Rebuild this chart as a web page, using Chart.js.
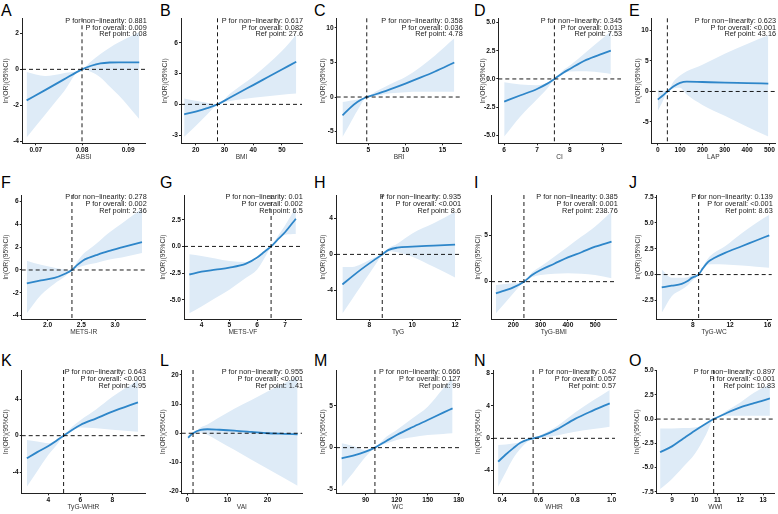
<!DOCTYPE html>
<html>
<head>
<meta charset="utf-8">
<title>RCS curves</title>
<script src="https://cdn.jsdelivr.net/npm/chart.js@4.4.0/dist/chart.umd.min.js"></script>
<style>
  html, body { margin: 0; padding: 0; background: #fff; overflow: hidden; }
  #fig { position: relative; width: 778px; height: 514px; }
  #fig canvas { position: absolute; }
  .tag { position: absolute; font: 16px "Liberation Sans", Arial, sans-serif; line-height: 16px; color: #000; }
</style>
</head>
<body>
<div id="fig"></div>
<script>
// Panel labels and axis titles
const panelTags = ['A', 'B', 'C', 'D', 'E', 'F', 'G', 'H', 'I', 'J', 'K', 'L', 'M', 'N', 'O'];
const xTitles = ['ABSI', 'BMI', 'BRI', 'CI', 'LAP', 'METS-IR', 'METS-VF', 'TyG', 'TyG-BMI', 'TyG-WC',
                 'TyG-WHtR', 'VAI', 'WC', 'WHtR', 'WWI'];
const yTitle = 'ln(OR)(95%CI)';

// Stats shown top-right of each panel
const pNonLinear = ['0.881', '0.617', '0.358', '0.345', '0.623', '0.278', '0.01', '0.935', '0.385', '0.139',
                    '0.643', '0.955', '0.666', '0.42', '0.897'];
const pOverall = ['0.009', '0.082', '0.036', '0.013', '<0.001', '0.002', '0.002', '<0.001', '0.001', '<0.001',
                  '<0.001', '<0.001', '0.127', '0.057', '<0.001'];
const refPoints = [0.08, 27.6, 4.78, 7.53, 43.16, 2.36, 6.5, 8.6, 238.76, 8.63, 4.95, 1.41, 99, 0.57, 10.83];

// Curve x positions, fitted ln(OR) and 95% CI bounds
const xPoints = [
  [0.068, 0.072, 0.076, 0.080, 0.082, 0.084, 0.086, 0.088, 0.0924],
  [16, 20, 24, 27.6, 32, 36, 40, 45, 50, 55],
  [1.5, 2.5, 3.5, 4.78, 6, 8, 10, 12, 14, 16.6],
  [6.0, 6.5, 7.0, 7.3, 7.53, 7.8, 8.0, 8.5, 9.0, 9.25],
  [0, 20, 43.16, 70, 100, 130, 200, 300, 400, 495],
  [1.69, 1.9, 2.1, 2.25, 2.36, 2.44, 2.52, 2.6, 2.72, 2.9, 3.1, 3.4],
  [3.56, 4.0, 4.5, 5.0, 5.6, 6.0, 6.26, 6.5, 6.75, 7.0, 7.39],
  [6.74, 7.2, 7.6, 8.0, 8.3, 8.6, 8.9, 9.3, 10, 11, 12],
  [136, 170, 200, 239, 270, 300, 350, 400, 450, 500, 560],
  [4.68, 5.75, 6.82, 7.5, 7.9, 8.3, 8.63, 9.1, 9.68, 10.3, 11.46, 13.25, 14.8, 16.2],
  [2.65, 3.3, 4.0, 4.5, 4.95, 5.5, 6.0, 7.0, 8.0, 9.6],
  [0.17, 1.41, 3.3, 5, 8, 11.7, 16, 20, 24, 27.5],
  [66.8, 78, 90, 99, 110, 120, 135, 150, 165, 174],
  [0.378, 0.42, 0.46, 0.5, 0.54, 0.57, 0.62, 0.7, 0.8, 0.9, 0.99],
  [8.48, 9.0, 9.5, 10.0, 10.5, 10.83, 11.4, 12.0, 12.6, 13.3]
];
const fitValues = [
  [-1.72, -1.15, -0.57, 0, 0.2, 0.33, 0.38, 0.39, 0.39],
  [-0.97, -0.7, -0.37, 0, 0.67, 1.28, 1.88, 2.64, 3.4, 4.16],
  [-2.67, -1.6, -0.72, 0, 0.4, 1.15, 1.95, 2.8, 3.7, 5.0],
  [-2.01, -1.45, -0.89, -0.44, 0, 0.55, 0.89, 1.69, 2.24, 2.51],
  [-1.32, -0.75, 0, 0.8, 1.4, 1.62, 1.55, 1.45, 1.38, 1.3],
  [-1.17, -0.92, -0.7, -0.35, 0, 0.45, 0.82, 1.05, 1.3, 1.65, 1.98, 2.45],
  [-2.63, -2.37, -2.18, -1.99, -1.61, -1.04, -0.5, 0, 0.68, 1.33, 2.6],
  [-3.35, -2.45, -1.7, -1.0, -0.5, 0, 0.5, 0.75, 0.86, 0.98, 1.1],
  [-1.27, -0.95, -0.62, 0, 0.75, 1.27, 1.95, 2.64, 3.2, 3.8, 4.35],
  [-1.23, -1.08, -0.9, -0.6, -0.32, -0.17, 0, 0.62, 1.25, 1.6, 2.1, 2.74, 3.3, 3.8],
  [-2.48, -1.8, -1.13, -0.55, 0, 0.65, 1.17, 1.9, 2.63, 3.65],
  [-1.49, 0, 1.14, 1.37, 1.2, 0.91, 0.45, 0, -0.2, -0.34],
  [-1.28, -0.95, -0.48, 0, 0.8, 1.52, 2.45, 3.32, 4.2, 4.72],
  [-2.89, -2.0, -1.24, -0.55, -0.15, 0, 0.3, 1.1, 2.4, 3.45, 4.33],
  [-3.42, -2.81, -2.0, -1.2, -0.45, 0, 0.62, 1.2, 1.64, 2.12]
];
const lowerCI = [
  [-3.78, -2.52, -1.26, 0, -0.15, -0.45, -0.95, -1.45, -2.75],
  [-3.15, -2.1, -1.0, 0, 0.32, 0.5, 0.65, 0.8, 0.95, 1.05],
  [-5.8, -3.9, -2.0, 0, 0.2, 0.55, 0.7, 0.75, 0.75, 0.75],
  [-5.1, -3.3, -1.8, -0.9, 0, 0.45, 0.65, 0.68, 0.55, 0.44],
  [-3.2, -1.8, 0, 0.5, 0.6, -0.5, -2.2, -4.0, -5.8, -7.4],
  [-3.8, -2.2, -1.2, -0.6, 0, 0.2, 0.35, 0.48, 0.62, 0.9, 1.1, 1.5],
  [-6.27, -5.63, -4.84, -4.05, -2.94, -2.15, -1.1, 0, 0.75, 1.1, 1.17],
  [-6.6, -4.97, -3.55, -2.13, -1.07, 0, 0.35, 0.25, -0.26, -1.38, -2.57],
  [-3.44, -2.3, -1.27, 0, 0.5, 0.72, 0.85, 0.9, 0.85, 0.72, 0.36],
  [-3.7, -2.1, -1.45, -1.0, -0.65, -0.3, 0, 0.5, 0.97, 1.0, 0.97, 0.87, 0.75, 0.65],
  [-5.6, -3.9, -2.1, -1.05, 0, 0.6, 0.9, 0.82, 0.65, 0.44],
  [-2.3, 0, 0.3, -0.5, -2.83, -5.7, -9.06, -12.2, -15.3, -18.0],
  [-4.68, -3.0, -1.1, 0, 0.5, 0.92, 1.25, 1.52, 1.65, 1.72],
  [-5.98, -4.2, -2.5, -1.3, -0.4, 0, 0.1, 0.35, 0.8, 1.15, 1.44],
  [-7.2, -6.16, -4.9, -3.6, -1.6, 0, 0.34, 0.34, 0.34, 0.34]
];
const upperCI = [
  [-0.15, -0.37, -0.22, 0, 0.45, 0.85, 1.2, 1.5, 2.05],
  [0.58, 0.35, 0.15, 0, 1.05, 1.9, 2.7, 3.9, 5.2, 6.8],
  [-0.73, -0.55, -0.35, 0, 0.8, 1.9, 2.9, 4.3, 6.0, 8.5],
  [-0.3, -0.5, -0.55, -0.35, 0, 0.8, 1.2, 2.4, 3.6, 4.2],
  [0.3, 0.2, 0, 1.6, 2.6, 3.3, 4.4, 6.2, 7.8, 9.2],
  [0.82, 0.45, 0.2, 0.05, 0, 0.75, 1.35, 1.75, 2.3, 3.23, 4.09, 5.38],
  [-0.73, -0.89, -1.12, -1.36, -1.45, -1.2, -0.6, 0, 1.0, 1.96, 3.7],
  [-1.4, -1.4, -1.1, -0.63, -0.3, 0, 0.7, 1.2, 2.34, 3.46, 4.76],
  [-0.36, -0.25, -0.18, 0, 1.05, 1.65, 2.7, 3.8, 4.9, 6.0, 7.6],
  [0.48, -0.32, -0.32, -0.25, -0.1, -0.05, 0, 0.8, 1.6, 2.1, 2.74, 4.0, 5.0, 5.8],
  [-0.47, -0.65, -0.84, -0.45, 0, 1.0, 1.7, 2.9, 4.25, 6.1],
  [-0.6, 0, 2.0, 3.0, 5.5, 8.4, 11.4, 14.3, 17.1, 19.4],
  [0.52, 0.2, -0.28, 0, 1.3, 2.12, 3.5, 4.92, 7.1, 8.32],
  [-0.82, -0.75, -0.65, -0.5, -0.25, 0, 0.5, 1.5, 3.2, 4.7, 5.98],
  [-0.96, -0.96, -0.92, -0.86, -0.5, 0, 0.86, 1.7, 2.7, 3.6]
];

// Axis limits and tick values
const xLimits = [[0.0670, 0.0938], [14.9, 57], [0.72, 17.6], [5.82, 9.56], [-27, 525], [1.614, 3.455],
                 [3.37, 7.6], [6.44, 12.23], [118, 579], [4.14, 16.46], [2.33, 10.04], [-1.42, 28.6],
                 [61.4, 180.5], [0.35, 1.019], [8.33, 13.48]];
const yLimits = [[-4.1, 2.83], [-3.8, 8.4], [-6.7, 11.4], [-5.71, 5.38], [-8.5, 12.0], [-4.3, 6.58],
                 [-6.8, 4.82], [-7.2, 6.62], [-4.06, 9.42], [-4.3, 7.7], [-6.31, 7.19], [-20.6, 21.7],
                 [-5.48, 9.32], [-6.8, 8.45], [-7.64, 5.05]];
const xTicks = [[0.07, 0.08, 0.09], [20, 30, 40, 50], [5, 10, 15], [6, 7, 8, 9], [0, 100, 200, 300, 400, 500],
                [2, 2.5, 3], [4, 5, 6, 7], [8, 10, 12], [200, 300, 400, 500], [8, 12, 16], [4, 6, 8],
                [0, 10, 20], [90, 120, 150, 180], [0.4, 0.6, 0.8, 1.0], [9, 10, 11, 12, 13]];
const yTicks = [[-4, -2, 0, 2], [-3, 0, 3, 6], [-5, 0, 5, 10], [-5, -2.5, 0, 2.5, 5], [-5, 0, 5, 10],
                [-4, -2, 0, 2, 4, 6], [-5, -2.5, 0, 2.5], [-4, 0, 4], [0, 5], [-2.5, 0, 2.5, 5, 7.5],
                [-4, 0, 4], [-20, -10, 0, 10, 20], [-5, 0, 5], [-4, 0, 4, 8], [-7.5, -5, -2.5, 0, 2.5, 5]];
const xDecimals = [2, 0, 0, 0, 0, 1, 0, 0, 0, 0, 0, 0, 0, 1, 0];
const yDecimals = [0, 0, 0, 1, 0, 0, 1, 0, 0, 1, 0, 0, 0, 0, 1];

// Layout of the grid (pixels)
const plotLeft  = [22, 181, 336.7, 498.3, 651.7, 21.7, 184, 336, 491, 656.7, 21.7, 181.7, 336, 493, 656.7];
const plotRight = [145.7, 302, 461.7, 621, 775, 145.7, 301.7, 460, 616.7, 771.7, 145, 302, 459.3, 615, 774];
const boxLeft   = [0, 159, 317, 477, 632, 0, 157, 317, 472, 632, 0, 157, 317, 472, 631];
const plotTop    = [18.3, 195, 370];
const plotBottom = [143.3, 319, 493.3];
const boxTop     = [0, 177, 352];
const tagLeft = [1, 160, 314, 474, 629];
const tagTop  = [3, 175, 353];

const family = '"Liberation Sans", Arial, sans-serif';
const lineBlue = '#2e86c9';
const bandBlue = '#deebf7';

// dashed reference lines at ln(OR)=0 and at the reference point
const refLines = {
  id: 'refLines',
  afterDatasetsDraw(chart, args, opts) {
    const { ctx, chartArea: a, scales } = chart;
    const px = scales.x.getPixelForValue(opts.ref);
    const py = scales.y.getPixelForValue(0);
    ctx.save();
    ctx.strokeStyle = '#000';
    ctx.lineWidth = 0.9;
    ctx.setLineDash([4, 3]);
    ctx.beginPath();
    ctx.moveTo(a.left, py);
    ctx.lineTo(a.right, py);
    ctx.moveTo(px, a.top);
    ctx.lineTo(px, a.bottom);
    ctx.stroke();
    ctx.restore();
  }
};

// P-values text in the top right corner
const statsText = {
  id: 'statsText',
  afterDraw(chart, args, opts) {
    const { ctx, chartArea: a } = chart;
    ctx.save();
    ctx.font = '7.3px ' + family;
    ctx.fillStyle = '#1a1a1a';
    ctx.textAlign = 'right';
    ctx.textBaseline = 'middle';
    opts.lines.forEach((t, k) => ctx.fillText(t, a.right + 1, a.top + 2.4 + k * 6.8));
    ctx.restore();
  }
};

const fig = document.getElementById('fig');

panelTags.forEach(function(tag, i) {
  const row = Math.floor(i / 5);
  const col = i % 5;

  const label = document.createElement('div');
  label.className = 'tag';
  label.textContent = tag;
  label.style.left = tagLeft[col] + 'px';
  label.style.top = tagTop[row] + 'px';
  fig.appendChild(label);

  const left = boxLeft[i];
  const width = Math.ceil(Math.min(plotRight[i] + 8, 778) - left);
  const top = boxTop[row];
  const height = Math.ceil(plotBottom[row] - top + 18);
  const padTop = plotTop[row] - top;
  const padRight = left + width - plotRight[i];
  const yWidth = plotLeft[i] - left;
  const xHeight = top + height - plotBottom[row];

  const canvas = document.createElement('canvas');
  canvas.width = width;
  canvas.height = height;
  canvas.style.left = left + 'px';
  canvas.style.top = top + 'px';
  canvas.style.width = width + 'px';
  canvas.style.height = height + 'px';
  fig.appendChild(canvas);

  const pts = arr => xPoints[i].map((x, k) => ({ x: x, y: arr[k] }));

  // the first dataset is drawn last, so the fitted line goes first
  new Chart(canvas, {
    type: 'line',
    data: {
      datasets: [
        { data: pts(fitValues[i]), fill: false, borderColor: lineBlue,
          borderWidth: 1.8, pointRadius: 0, cubicInterpolationMode: 'monotone' },
        { data: pts(upperCI[i]), fill: '+1', backgroundColor: bandBlue, borderColor: 'rgba(0,0,0,0)',
          borderWidth: 0, pointRadius: 0, cubicInterpolationMode: 'monotone' },
        { data: pts(lowerCI[i]), fill: false, borderColor: 'rgba(0,0,0,0)',
          borderWidth: 0, pointRadius: 0, cubicInterpolationMode: 'monotone' }
      ]
    },
    plugins: [refLines, statsText],
    options: {
      responsive: false,
      animation: false,
      events: [],
      layout: { padding: { top: padTop, right: padRight, bottom: 0, left: 0 } },
      plugins: {
        legend: { display: false },
        tooltip: { enabled: false },
        refLines: { ref: refPoints[i] },
        statsText: { lines: ['P for non\u2212linearity: ' + pNonLinear[i],
                             'P for overall: ' + pOverall[i],
                             'Ref point: ' + refPoints[i]] }
      },
      scales: {
        x: {
          type: 'linear',
          min: xLimits[i][0],
          max: xLimits[i][1],
          afterBuildTicks: s => { s.ticks = xTicks[i].map(v => ({ value: v })); },
          afterFit: s => { s.height = xHeight; },
          border: { display: true, color: '#222', width: 1 },
          grid: { display: true, drawOnChartArea: false, drawTicks: true, tickLength: 2, color: '#222' },
          ticks: { padding: 0.5, color: '#111', autoSkip: false, maxRotation: 0,
                   font: { family: family, size: 6.6, weight: 'bold' },
                   callback: v => Number(v).toFixed(xDecimals[i]) },
          title: { display: true, text: xTitles[i], color: '#333',
                   font: { family: family, size: 6.6 }, padding: { top: 0, bottom: 0.5 } }
        },
        y: {
          type: 'linear',
          min: yLimits[i][0],
          max: yLimits[i][1],
          afterBuildTicks: s => { s.ticks = yTicks[i].map(v => ({ value: v })); },
          afterFit: s => { s.width = yWidth; },
          border: { display: true, color: '#222', width: 1 },
          grid: { display: true, drawOnChartArea: false, drawTicks: true, tickLength: 2, color: '#222' },
          ticks: { padding: 1, color: '#111', autoSkip: false,
                   font: { family: family, size: 6.6, weight: 'bold' },
                   callback: v => Number(v).toFixed(yDecimals[i]) },
          title: { display: true, text: yTitle, color: '#333',
                   font: { family: family, size: 6.8 }, padding: { top: 2, bottom: 0 } }
        }
      }
    }
  });
});
</script>
</body>
</html>
